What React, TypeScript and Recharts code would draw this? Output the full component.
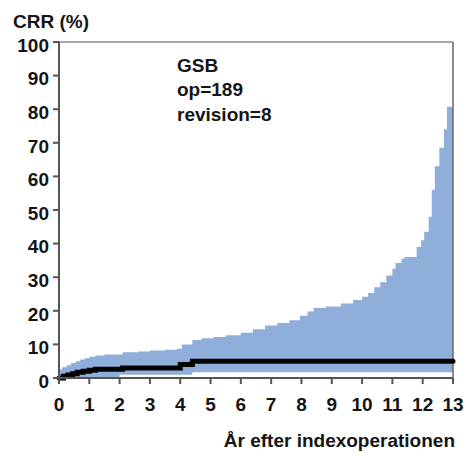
import React from "react"
import { ComposedChart, Area, Line, XAxis, YAxis, ReferenceLine } from "recharts"

// years after index operation, confidence band upper/lower (%)
const bandYears = [0, 0.1, 0.25, 0.4, 0.55, 0.7, 0.85, 1.0, 1.2, 1.5, 2.1, 2.6, 3.0, 3.5, 3.9, 4.05, 4.4, 4.7, 5.1, 5.5, 6.0, 6.4, 6.8, 7.2, 7.6, 7.95, 8.2, 8.4, 8.8, 9.3, 9.7, 10.0, 10.2, 10.4, 10.6, 10.8, 11.0, 11.1, 11.3, 11.4, 11.8, 11.95, 12.05, 12.2, 12.3, 12.4, 12.55, 12.7, 12.8, 13]
const bandHigh = [2.5, 3.2, 3.8, 4.5, 5.0, 5.5, 5.9, 6.3, 6.7, 7.0, 7.7, 7.9, 8.2, 8.4, 8.7, 10.0, 11.3, 11.8, 12.2, 12.7, 13.5, 14.5, 15.6, 16.4, 17.2, 18.5, 19.8, 20.8, 21.3, 22.2, 23.2, 24.2, 25.3, 27.0, 28.5, 30.5, 32.5, 34.2, 35.5, 36.0, 39.0, 41.0, 43.5, 48.0, 56.0, 63.0, 68.5, 74.0, 80.7, 80.7]
const lowYears = [0, 2.0, 4.4, 13]
const lowValues = [0, 1.0, 1.7, 1.7]

// cumulative revision rate (Kaplan-Meier steps)
const crrYears = [0, 0.15, 0.3, 0.45, 0.6, 0.8, 1.0, 1.2, 2.1, 4.0, 4.4, 13]
const crrValues = [0, 0.5, 0.9, 1.3, 1.7, 2.0, 2.3, 2.6, 3.0, 4.0, 5.0, 5.0]

const xTicks = [0, 1, 2, 3, 4, 5, 6, 7, 8, 9, 10, 11, 12, 13]
const yTicks = [0, 10, 20, 30, 40, 50, 60, 70, 80, 90, 100]

const stepAt = (xs: number[], ys: number[], x: number) => {
  let v = ys[0]
  for (let i = 0; i < xs.length; i++) if (xs[i] <= x) v = ys[i]
  return v
}

const allYears = Array.from(new Set([...bandYears, ...lowYears, ...crrYears])).sort((a, b) => a - b)
const data = allYears.map((year) => ({
  year,
  band: [stepAt(lowYears, lowValues, year), stepAt(bandYears, bandHigh, year)],
  crr: stepAt(crrYears, crrValues, year),
}))

const font = "Arial, 'Liberation Sans', sans-serif"
const ink = "#151515"

export default function App() {
  return (
    <div style={{ position: "absolute", left: 0, top: 0, width: 466, height: 459, background: "#fff" }}>
      <ComposedChart width={466} height={459} data={data} margin={{ top: 42, right: 13, left: 0, bottom: 51 }}>
        <XAxis
          dataKey="year"
          type="number"
          domain={[0, 13]}
          ticks={xTicks}
          interval={0}
          tickSize={6}
          tickMargin={14}
          height={30}
          stroke="#555"
          strokeWidth={2}
          tick={{ fill: ink, fontSize: 19, fontWeight: 700, fontFamily: font }}
        />
        <YAxis
          type="number"
          domain={[0, 100]}
          ticks={yTicks}
          interval={0}
          width={59}
          tickSize={6}
          tickMargin={4}
          stroke="#555"
          strokeWidth={2}
          tick={{ fill: ink, fontSize: 19, fontWeight: 700, fontFamily: font, dy: 3 }}
        />
        <ReferenceLine y={100} stroke="#888" strokeWidth={1.5} />
        <ReferenceLine x={13} stroke="#666" strokeWidth={1.5} />
        <Area
          dataKey="band"
          type="stepAfter"
          fill="#8FAEDA"
          fillOpacity={1}
          stroke="none"
          isAnimationActive={false}
        />
        <Line
          dataKey="crr"
          type="stepAfter"
          stroke="#000"
          strokeWidth={5}
          strokeLinecap="round"
          dot={false}
          isAnimationActive={false}
        />
        <text x={13} y={28} fill={ink} fontSize={19} fontWeight={700} fontFamily={font}>CRR (%)</text>
        <text x={177} y={72} fill={ink} fontSize={19} fontWeight={700} fontFamily={font}>GSB</text>
        <text x={177} y={96} fill={ink} fontSize={19} fontWeight={700} fontFamily={font}>op=189</text>
        <text x={177} y={121} fill={ink} fontSize={19} fontWeight={700} fontFamily={font}>revision=8</text>
        <text x={455} y={447} textAnchor="end" fill={ink} fontSize={19} fontWeight={700} fontFamily={font}>
          År efter indexoperationen
        </text>
      </ComposedChart>
    </div>
  )
}
